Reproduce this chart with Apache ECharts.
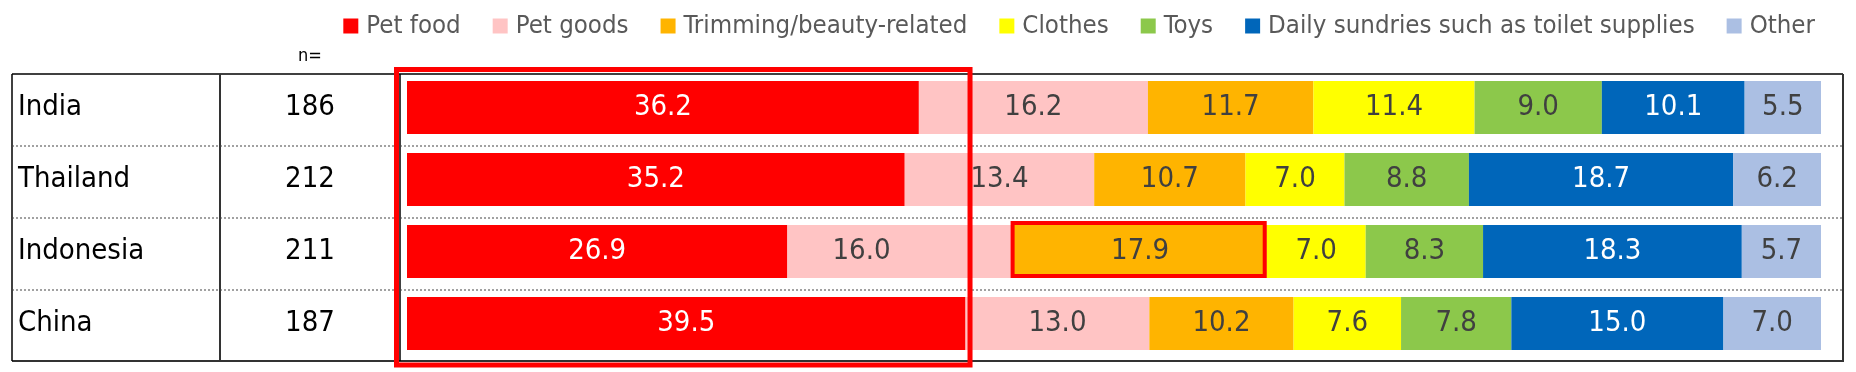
<!DOCTYPE html>
<html><head><meta charset="utf-8">
<script src="https://cdn.jsdelivr.net/npm/echarts/dist/echarts.min.js"></script>
<style>html,body{margin:0;padding:0;background:#fff}#c{width:1856px;height:372px}</style>
</head><body><div id="c"></div>
<script>
// ---- data ----
const countries = ['India', 'Thailand', 'Indonesia', 'China'];
const nValues = ['186', '212', '211', '187'];
const nHeader = 'n=';
const seriesNames = ['Pet food', 'Pet goods', 'Trimming/beauty-related', 'Clothes', 'Toys', 'Daily sundries such as toilet supplies', 'Other'];
const petFood  = [36.2, 35.2, 26.9, 39.5];
const petGoods = [16.2, 13.4, 16.0, 13.0];
const trimming = [11.7, 10.7, 17.9, 10.2];
const clothes  = [11.4, 7.0, 7.0, 7.6];
const toys     = [9.0, 8.8, 8.3, 7.8];
const daily    = [10.1, 18.7, 18.3, 15.0];
const other    = [5.5, 6.2, 5.7, 7.0];
const seriesValues = [petFood, petGoods, trimming, clothes, toys, daily, other];

// ---- styles ----
const colors = ['#ff0000', '#ffc4c4', '#ffb400', '#ffff00', '#8cc84b', '#0066ba', '#abbfe3'];
const labelColors = ['#ffffff', '#404040', '#404040', '#404040', '#404040', '#ffffff', '#404040'];
const FONT = '"DejaVu Sans Condensed", "DejaVu Sans", sans-serif';
// label nudges as placed in the original (series index, row index) -> [dx, dy]
const labelNudge = { '1,2': [-39, 0] };

const chart = echarts.init(document.getElementById('c'));
const option = {
  animation: false,
  backgroundColor: '#ffffff',
  legend: {
    data: seriesNames,
    right: 41, top: 13, padding: 0,
    itemWidth: 15, itemHeight: 15, itemGap: 32,
    icon: 'rect',
    textStyle: { fontFamily: FONT, fontSize: 25.6, color: '#595959', padding: [0, 0, 0, 3] }
  },
  grid: { left: 407, right: 35, top: 71.5, bottom: 12.5, containLabel: false },
  xAxis: { type: 'value', min: 0, max: 100, show: false },
  yAxis: [
    { type: 'category', data: countries, inverse: true,
      axisLine: { show: false }, axisTick: { show: false }, splitLine: { show: false },
      axisLabel: { interval: 0, align: 'left', margin: 389, fontFamily: FONT, fontSize: 29, color: '#000' } },
    { type: 'category', data: nValues, inverse: true, position: 'left',
      axisLine: { show: false }, axisTick: { show: false }, splitLine: { show: false },
      axisLabel: { interval: 0, align: 'center', margin: 97, fontFamily: FONT, fontSize: 29, color: '#000' } }
  ],
  series: seriesValues.map((vals, i) => ({
    name: seriesNames[i], type: 'bar', stack: 'total', yAxisIndex: 0,
    barWidth: 53,
    itemStyle: { color: colors[i] },
    label: { show: true, position: 'inside', fontFamily: FONT, fontSize: 29, color: labelColors[i],
      formatter: p => p.value.toFixed(1) },
    data: vals.map((v, j) => labelNudge[i + ',' + j]
      ? { value: v, label: { offset: labelNudge[i + ',' + j] } } : v)
  }))
};
chart.setOption(option);

// ---- table frame and highlight boxes ----
const L = 12, R = 1843, T = 74, B = 361, D1 = 220, D2 = 400;
const rowLines = [146, 218, 290];
const px = (v, i) => chart.convertToPixel({ gridIndex: 0 }, [v, i]);
const halfBar = 26.5;
const g = [];
rowLines.forEach(y => g.push({ type: 'line', shape: { x1: L, y1: y, x2: R, y2: y },
  style: { stroke: '#444', lineWidth: 1, lineDash: [2, 2] }, z: 1 }));
g.push({ type: 'line', shape: { x1: L, y1: T, x2: R, y2: T }, style: { stroke: '#000', lineWidth: 1.5 } });
g.push({ type: 'line', shape: { x1: L, y1: B, x2: R + 1, y2: B }, style: { stroke: '#333', lineWidth: 2 } });
g.push({ type: 'line', shape: { x1: L, y1: T, x2: L, y2: B }, style: { stroke: '#000', lineWidth: 1.5 } });
g.push({ type: 'line', shape: { x1: R, y1: T, x2: R, y2: B }, style: { stroke: '#333', lineWidth: 2 } });
g.push({ type: 'line', shape: { x1: D1, y1: T, x2: D1, y2: B }, style: { stroke: '#333', lineWidth: 2 } });
g.push({ type: 'line', shape: { x1: D2, y1: T, x2: D2, y2: B }, style: { stroke: '#000', lineWidth: 1.5 } });
g.push({ type: 'text', x: 310, y: 56, style: { text: nHeader, fontFamily: FONT, fontSize: 18, fill: '#000', align: 'center', verticalAlign: 'middle' } });

// box 1: around the Pet food column
const maxFood = Math.max(...petFood);
const xFoodEnd = px(maxFood, petFood.indexOf(maxFood))[0];
g.push({ type: 'rect', shape: { x: D2 - 3.5, y: T - 4.5, width: xFoodEnd + 4.5 - (D2 - 3.5), height: (B + 4) - (T - 4.5) },
  style: { fill: 'none', stroke: '#ff0000', lineWidth: 5 }, z: 10 });
// box 2: around Indonesia trimming segment
const iIdx = countries.indexOf('Indonesia');
const s0 = petFood[iIdx] + petGoods[iIdx];
const p0 = px(s0, iIdx), p1 = px(s0 + trimming[iIdx], iIdx);
g.push({ type: 'rect', shape: { x: p0[0] - 1, y: p0[1] - halfBar - 2, width: p1[0] - p0[0] - 1, height: halfBar * 2 },
  style: { fill: 'none', stroke: '#ff0000', lineWidth: 4 }, z: 10 });

chart.setOption({ graphic: g });
</script></body></html>
